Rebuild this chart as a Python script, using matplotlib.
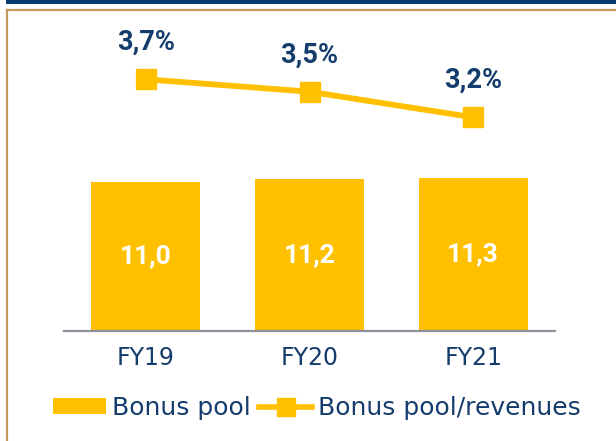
import matplotlib
matplotlib.use("Agg")
import matplotlib.pyplot as plt
from matplotlib.lines import Line2D
from matplotlib.patches import Rectangle, Patch

categories = ["FY19", "FY20", "FY21"]
bonus_pool = [11.0, 11.2, 11.3]
bonus_ratio = [3.66, 3.50, 3.17]
bar_labels = ["11,0", "11,2", "11,3"]
ratio_labels = ["3,7%", "3,5%", "3,2%"]
legend_labels = ["Bonus pool", "Bonus pool/revenues"]

YELLOW = "#FFC000"
NAVY = "#143C6C"
W, H = 616, 441

fig = plt.figure(figsize=(W / 100, H / 100), dpi=100)
fig.patch.set_facecolor("white")

# frame decorations
fig.add_artist(Rectangle((6 / W, 1 - 3.5 / H), 1, 3.5 / H, transform=fig.transFigure,
                         facecolor="#0B3A6E", edgecolor="none"))
fig.add_artist(Line2D([6.5 / W, 1], [1 - 10 / H, 1 - 10 / H], transform=fig.transFigure,
                      color="#C49A5C", lw=1.6))
fig.add_artist(Line2D([6.5 / W, 6.5 / W], [1 - 10 / H, 0], transform=fig.transFigure,
                      color="#C49A5C", lw=1.6))

ax = fig.add_axes([64 / W, 1 - 331 / H, (555 - 64) / W, 311 / H])
x = list(range(len(categories)))
bars = ax.bar(x, bonus_pool, width=0.665, color=YELLOW, zorder=2)
ax.set_xlim(-0.5, 2.5)
ax.set_ylim(0, 22.96)
for xi, v, lab in zip(x, bonus_pool, bar_labels):
    ax.text(xi, v / 2, lab, ha="center", va="center", color="white",
            fontsize=19, fontweight="bold", family="Roboto")

for s in ["top", "right", "left"]:
    ax.spines[s].set_visible(False)
ax.spines["bottom"].set_color("#8E909C")
ax.spines["bottom"].set_linewidth(1.6)
ax.set_yticks([])
ax.set_xticks(x)
ax.set_xticklabels(categories, fontsize=17, color=NAVY, family="DejaVu Sans")
ax.tick_params(axis="x", length=0, pad=11)
ax.patch.set_visible(False)

ax2 = ax.twinx()
ax2.set_ylim(0.4144, 4.4247)
ax2.plot(x, bonus_ratio, color=YELLOW, lw=4.2, marker="s", markersize=14.5, zorder=3)
for xi, v, lab in zip(x, bonus_ratio, ratio_labels):
    ax2.annotate(lab, (xi, v), xytext=(0, 26.5), textcoords="offset points",
                 ha="center", va="center", color=NAVY, fontsize=19.5,
                 fontweight="bold", family="Roboto")
ax2.set_yticks([])
for s in ax2.spines.values():
    s.set_visible(False)

handles = [Patch(facecolor=YELLOW, edgecolor="none"),
           Line2D([], [], color=YELLOW, lw=4, marker="s", markersize=13)]
fig.legend(handles, legend_labels, loc="center", bbox_to_anchor=(317 / W, 1 - 408 / H),
           ncol=2, frameon=False, fontsize=18, handlelength=2.1, handleheight=0.6,
           handletextpad=0.25, columnspacing=0.35, borderpad=0,
           labelcolor=NAVY)

fig.savefig("out.png", dpi=100, facecolor="white")
